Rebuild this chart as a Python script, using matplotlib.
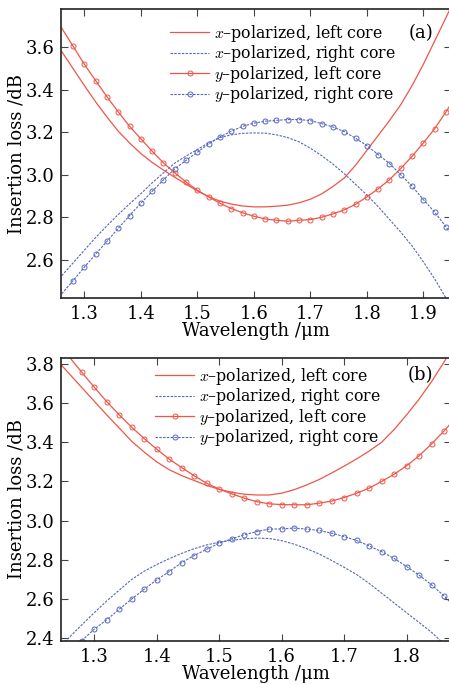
import numpy as np
import matplotlib
matplotlib.use("Agg")
import matplotlib.pyplot as plt

plt.rcParams['font.family'] = ['DejaVu Serif']
plt.rcParams['mathtext.fontset'] = 'cm'

# ---- panel (a) data, wavelength in um ----
wl_a = [1.26, 1.28, 1.30, 1.32, 1.34, 1.36, 1.38, 1.40, 1.42, 1.44, 1.46, 1.48,
        1.50, 1.52, 1.54, 1.56, 1.58, 1.60, 1.62, 1.64, 1.66, 1.68, 1.70, 1.72,
        1.74, 1.76, 1.78, 1.80, 1.82, 1.84, 1.86, 1.88, 1.90, 1.92, 1.94, 1.96]
xl_a = [3.58, 3.50, 3.42, 3.343, 3.272, 3.205, 3.15, 3.10, 3.058, 3.022, 2.988, 2.956,
        2.924, 2.897, 2.876, 2.862, 2.853, 2.849, 2.849, 2.852, 2.857, 2.868, 2.885, 2.91,
        2.945, 2.985, 3.045, 3.115, 3.185, 3.255, 3.33, 3.42, 3.52, 3.63, 3.74, 3.85]
xr_a = [2.525, 2.585, 2.645, 2.705, 2.76, 2.813, 2.863, 2.911, 2.962, 3.009, 3.055, 3.088,
        3.119, 3.151, 3.175, 3.188, 3.195, 3.197, 3.196, 3.188, 3.175, 3.155, 3.125, 3.09,
        3.05, 3.005, 2.955, 2.905, 2.85, 2.79, 2.73, 2.665, 2.59, 2.51, 2.42, 2.32]
yl_a = [3.69, 3.605, 3.52, 3.443, 3.367, 3.296, 3.228, 3.169, 3.111, 3.056, 3.009, 2.966,
        2.927, 2.896, 2.866, 2.841, 2.821, 2.805, 2.792, 2.786, 2.781, 2.786, 2.789, 2.80,
        2.816, 2.835, 2.861, 2.896, 2.934, 2.977, 3.03, 3.087, 3.15, 3.217, 3.296, 3.38]
yr_a = [2.44, 2.502, 2.565, 2.626, 2.687, 2.748, 2.808, 2.866, 2.922, 2.976, 3.028, 3.068,
        3.106, 3.145, 3.178, 3.205, 3.228, 3.243, 3.252, 3.256, 3.26, 3.26, 3.255, 3.241,
        3.225, 3.203, 3.172, 3.137, 3.095, 3.053, 3.0, 2.946, 2.883, 2.824, 2.755, 2.68]

# ---- panel (b) data ----
wl_b = [1.24, 1.26, 1.28, 1.30, 1.32, 1.34, 1.36, 1.38, 1.40, 1.42, 1.44, 1.46,
        1.48, 1.50, 1.52, 1.54, 1.56, 1.58, 1.60, 1.62, 1.64, 1.66, 1.68, 1.70,
        1.72, 1.74, 1.76, 1.78, 1.80, 1.82, 1.84, 1.86, 1.88]
xl_b = [3.82, 3.75, 3.68, 3.61, 3.54, 3.473, 3.405, 3.35, 3.30, 3.26, 3.23, 3.205,
        3.18, 3.16, 3.145, 3.135, 3.131, 3.131, 3.14, 3.158, 3.182, 3.21, 3.243, 3.278,
        3.315, 3.355, 3.40, 3.465, 3.54, 3.62, 3.71, 3.81, 3.92]
xr_b = [2.34, 2.404, 2.468, 2.53, 2.59, 2.645, 2.70, 2.742, 2.776, 2.806, 2.833, 2.857,
        2.876, 2.89, 2.90, 2.907, 2.911, 2.909, 2.898, 2.88, 2.857, 2.83, 2.797, 2.762,
        2.725, 2.68, 2.63, 2.58, 2.53, 2.48, 2.43, 2.37, 2.30]
yl_b = [3.915, 3.836, 3.758, 3.681, 3.608, 3.54, 3.477, 3.419, 3.365, 3.314, 3.271, 3.229,
        3.191, 3.161, 3.137, 3.115, 3.097, 3.086, 3.082, 3.081, 3.081, 3.089, 3.10, 3.118,
        3.14, 3.166, 3.20, 3.237, 3.28, 3.331, 3.392, 3.458, 3.53]
yr_b = [2.27, 2.33, 2.387, 2.446, 2.494, 2.548, 2.60, 2.65, 2.698, 2.74, 2.786, 2.822,
        2.854, 2.885, 2.907, 2.928, 2.944, 2.957, 2.958, 2.962, 2.957, 2.95, 2.936, 2.919,
        2.899, 2.871, 2.842, 2.807, 2.766, 2.722, 2.672, 2.616, 2.55]

labels = [r'$x$–polarized, left core', r'$x$–polarized, right core',
          r'$y$–polarized, left core', r'$y$–polarized, right core']

RED = '#f05548'
BLUE = '#5566c0'
dash = (0, (2.2, 1.2))


def panel(ax, wl, xl, xr, yl, yr, skip, xlim, ylim, xticks, yticks, leg_x, leg_y):
    ax.plot(wl, xl, color=RED, lw=0.9, label=labels[0])
    ax.plot(wl, xr, color=BLUE, lw=0.8, ls=dash, label=labels[1])
    ax.plot(wl, yl, color=RED, lw=0.9, marker='o', ms=3.6, mfc='none', mew=0.7,
            markevery=slice(skip, None), label=labels[2])
    ax.plot(wl, yr, color=BLUE, lw=0.8, ls=dash, marker='o', ms=3.6, mfc='none', mew=0.7,
            markevery=slice(skip, None), label=labels[3])
    ax.set_xlim(*xlim)
    ax.set_ylim(*ylim)
    ax.set_xticks(xticks)
    ax.set_yticks(yticks)
    ax.tick_params(direction='in', length=5, width=0.8, top=True, right=True,
                   labelsize=13, pad=5, color='#444444')
    for s in ax.spines.values():
        s.set_linewidth(1.2)
        s.set_color('#222222')
    ax.set_xlabel('Wavelength /μm', fontsize=13, labelpad=-1)
    ax.set_ylabel('Insertion loss /dB', fontsize=13, labelpad=0)
    ax.legend(loc='upper left', bbox_to_anchor=(leg_x, leg_y), frameon=False,
              fontsize=11.3, borderpad=0, borderaxespad=0, handlelength=2.5,
              handletextpad=0.3, labelspacing=-0.04, numpoints=1)


fig = plt.figure(figsize=(4.49, 6.84), dpi=100)

ax1 = fig.add_axes([0.136, 0.5643, 0.868, 0.4225])
panel(ax1, wl_a, xl_a, xr_a, yl_a, yr_a, 1, (1.2588, 1.9485), (2.42, 3.78),
      [1.3, 1.4, 1.5, 1.6, 1.7, 1.8, 1.9], [2.6, 2.8, 3.0, 3.2, 3.4, 3.6],
      0.28, 0.952)
ax1.text(0.923, 0.918, '(a)', transform=ax1.transAxes, fontsize=13,
         ha='center', va='center')

ax2 = fig.add_axes([0.136, 0.0629, 0.868, 0.4137])
panel(ax2, wl_b, xl_b, xr_b, yl_b, yr_b, 2, (1.247, 1.8707), (2.386, 3.83),
      [1.3, 1.4, 1.5, 1.6, 1.7, 1.8], [2.4, 2.6, 2.8, 3.0, 3.2, 3.4, 3.6, 3.8],
      0.2416, 0.972)
ax2.text(0.923, 0.94, '(b)', transform=ax2.transAxes, fontsize=13,
         ha='center', va='center')

fig.savefig('out.png', dpi=100)
